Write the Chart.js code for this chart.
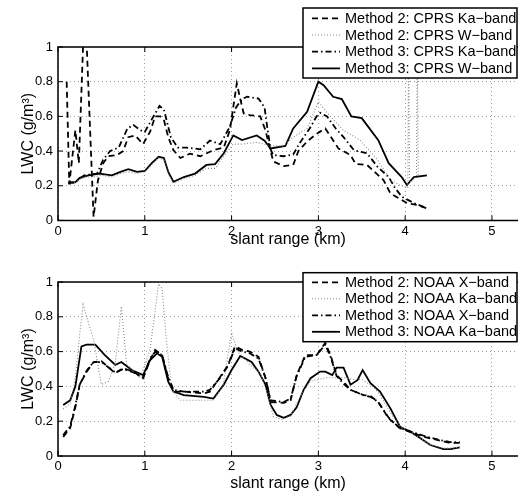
<!DOCTYPE html>
<html>
<head>
<meta charset="utf-8">
<script src="https://cdn.jsdelivr.net/npm/chart.js@4.4.0/dist/chart.umd.min.js"></script>
<style>
  html, body { margin: 0; padding: 0; background: #fff; }
  #wrap { position: relative; width: 518px; height: 496px; overflow: hidden; }
  .panel { position: absolute; left: 0; width: 518px; }
</style>
</head>
<body>
<div id="wrap">
  <div class="panel" style="top:0;height:252px"><canvas id="graficoCprs" width="518" height="252"></canvas></div>
  <div class="panel" style="top:252px;height:244px"><canvas id="graficoNoaa" width="518" height="244"></canvas></div>
</div>
<script>
// Datos: pares [distancia (km), LWC (g/m3)]
const xTicks = [0, 1, 2, 3, 4, 5];
const yTicks = [0, 0.2, 0.4, 0.6, 0.8, 1];

const cprsLabels = ['Method 2: CPRS Ka\u2212band', 'Method 2: CPRS W\u2212band', 'Method 3: CPRS Ka\u2212band', 'Method 3: CPRS W\u2212band'];
const noaaLabels = ['Method 2: NOAA X\u2212band', 'Method 2: NOAA Ka\u2212band', 'Method 3: NOAA X\u2212band', 'Method 3: NOAA Ka\u2212band'];

const cprsM2Ka = [[0.10,0.80],[0.13,0.21],[0.20,0.52],[0.24,0.33],[0.29,1.02],[0.33,1.02],[0.41,0.02],[0.46,0.23],[0.52,0.33],[0.58,0.37],[0.68,0.377],[0.75,0.40],[0.81,0.48],[0.89,0.49],[0.98,0.44],[1.06,0.51],[1.12,0.60],[1.18,0.60],[1.22,0.58],[1.27,0.48],[1.33,0.405],[1.41,0.36],[1.52,0.385],[1.64,0.37],[1.79,0.405],[1.91,0.42],[1.98,0.52],[2.06,0.79],[2.10,0.70],[2.14,0.617],[2.21,0.607],[2.33,0.60],[2.39,0.52],[2.48,0.34],[2.60,0.313],[2.71,0.32],[2.77,0.40],[2.87,0.455],[2.98,0.50],[3.08,0.53],[3.16,0.47],[3.23,0.415],[3.37,0.377],[3.43,0.325],[3.56,0.32],[3.67,0.27],[3.75,0.233],[3.83,0.156],[3.93,0.127],[4.02,0.10],[4.14,0.089],[4.25,0.07]];
const cprsM2W = [[0.12,0.21],[0.20,0.22],[0.30,0.25],[0.40,0.25],[0.50,0.26],[0.62,0.25],[0.72,0.27],[0.81,0.28],[0.91,0.27],[1.00,0.28],[1.08,0.32],[1.16,0.36],[1.22,0.35],[1.27,0.27],[1.33,0.215],[1.45,0.24],[1.58,0.26],[1.71,0.30],[1.81,0.30],[1.91,0.37],[2.02,0.44],[2.12,0.44],[2.29,0.45],[2.45,0.43],[2.60,0.43],[2.71,0.48],[2.87,0.53],[3.00,0.684],[3.10,0.62],[3.29,0.52],[3.48,0.463],[3.68,0.35],[3.83,0.233],[3.95,0.20],[4.03,0.19],[4.04,1.05],[4.05,0.22],[4.13,0.25],[4.14,1.05],[4.15,0.26]];
const cprsM3Ka = [[0.12,0.22],[0.20,0.22],[0.30,0.26],[0.45,0.27],[0.52,0.35],[0.60,0.40],[0.70,0.42],[0.80,0.53],[0.87,0.55],[0.95,0.52],[1.00,0.51],[1.10,0.60],[1.17,0.66],[1.22,0.64],[1.30,0.48],[1.38,0.42],[1.48,0.42],[1.64,0.41],[1.75,0.46],[1.87,0.44],[1.98,0.54],[2.05,0.65],[2.12,0.70],[2.18,0.713],[2.31,0.703],[2.38,0.65],[2.41,0.54],[2.45,0.41],[2.48,0.377],[2.60,0.37],[2.71,0.38],[2.79,0.45],[2.90,0.53],[2.98,0.60],[3.02,0.62],[3.10,0.60],[3.20,0.53],[3.29,0.48],[3.41,0.405],[3.56,0.387],[3.68,0.31],[3.81,0.25],[3.88,0.19],[3.96,0.137],[4.10,0.10],[4.25,0.07]];
const cprsM3W = [[0.12,0.21],[0.20,0.22],[0.25,0.245],[0.35,0.26],[0.48,0.27],[0.62,0.26],[0.72,0.28],[0.81,0.295],[0.91,0.28],[1.00,0.285],[1.08,0.33],[1.16,0.367],[1.22,0.36],[1.27,0.28],[1.33,0.223],[1.45,0.25],[1.58,0.27],[1.71,0.32],[1.81,0.325],[1.91,0.387],[2.02,0.49],[2.12,0.463],[2.29,0.49],[2.38,0.46],[2.45,0.415],[2.62,0.43],[2.71,0.53],[2.87,0.626],[3.00,0.80],[3.06,0.78],[3.17,0.713],[3.27,0.70],[3.38,0.60],[3.50,0.59],[3.69,0.463],[3.81,0.33],[3.96,0.25],[4.02,0.204],[4.10,0.25],[4.25,0.26]];

const noaaM2X = [[0.06,0.11],[0.14,0.16],[0.20,0.28],[0.25,0.41],[0.33,0.485],[0.41,0.54],[0.50,0.545],[0.58,0.51],[0.66,0.475],[0.75,0.504],[0.87,0.485],[0.98,0.447],[1.06,0.55],[1.12,0.61],[1.20,0.58],[1.26,0.46],[1.33,0.37],[1.45,0.37],[1.68,0.36],[1.75,0.37],[1.87,0.456],[1.96,0.523],[2.04,0.63],[2.12,0.61],[2.21,0.60],[2.31,0.57],[2.39,0.45],[2.45,0.31],[2.60,0.306],[2.68,0.32],[2.75,0.465],[2.85,0.58],[2.98,0.58],[3.08,0.65],[3.14,0.58],[3.21,0.465],[3.30,0.42],[3.37,0.38],[3.52,0.35],[3.60,0.345],[3.69,0.31],[3.81,0.216],[3.94,0.16],[4.10,0.13],[4.22,0.11],[4.37,0.092],[4.52,0.075],[4.63,0.075]];
const noaaM2Ka = [[0.06,0.27],[0.14,0.30],[0.20,0.45],[0.25,0.70],[0.29,0.87],[0.33,0.80],[0.41,0.67],[0.50,0.41],[0.58,0.43],[0.66,0.53],[0.73,0.86],[0.79,0.53],[0.90,0.47],[0.95,0.45],[1.06,0.61],[1.16,0.99],[1.20,0.96],[1.25,0.66],[1.31,0.38],[1.41,0.32],[1.60,0.32],[1.79,0.32],[1.90,0.40],[2.00,0.71],[2.07,0.60],[2.20,0.53],[2.33,0.475],[2.42,0.35],[2.48,0.226],[2.58,0.21],[2.68,0.23],[2.80,0.35],[2.91,0.43],[3.00,0.44],[3.10,0.45],[3.20,0.45],[3.30,0.45],[3.40,0.44],[3.50,0.44],[3.64,0.395],[3.71,0.35],[3.83,0.25],[3.94,0.17],[4.06,0.14],[4.18,0.10],[4.29,0.065],[4.44,0.045],[4.52,0.045],[4.63,0.05]];
const noaaM3X = [[0.06,0.12],[0.14,0.17],[0.20,0.29],[0.25,0.41],[0.33,0.49],[0.41,0.54],[0.50,0.54],[0.58,0.51],[0.66,0.48],[0.75,0.50],[0.87,0.48],[0.98,0.45],[1.06,0.56],[1.12,0.60],[1.20,0.58],[1.26,0.47],[1.33,0.38],[1.45,0.37],[1.68,0.37],[1.75,0.38],[1.87,0.45],[1.96,0.52],[2.04,0.62],[2.12,0.60],[2.21,0.59],[2.31,0.56],[2.39,0.45],[2.45,0.32],[2.60,0.31],[2.68,0.33],[2.75,0.46],[2.85,0.57],[2.98,0.58],[3.08,0.64],[3.14,0.57],[3.21,0.46],[3.30,0.41],[3.37,0.38],[3.52,0.35],[3.60,0.34],[3.69,0.31],[3.81,0.22],[3.94,0.16],[4.10,0.135],[4.22,0.115],[4.37,0.095],[4.52,0.08],[4.63,0.08]];
const noaaM3Ka = [[0.06,0.293],[0.14,0.32],[0.20,0.40],[0.27,0.63],[0.33,0.64],[0.43,0.64],[0.54,0.58],[0.66,0.523],[0.73,0.54],[0.85,0.494],[0.98,0.465],[1.06,0.55],[1.14,0.59],[1.20,0.57],[1.27,0.427],[1.33,0.37],[1.45,0.35],[1.68,0.34],[1.79,0.33],[1.91,0.41],[2.00,0.494],[2.10,0.575],[2.23,0.54],[2.31,0.485],[2.39,0.41],[2.45,0.293],[2.52,0.236],[2.60,0.22],[2.68,0.236],[2.75,0.28],[2.83,0.38],[2.91,0.447],[3.02,0.485],[3.08,0.485],[3.16,0.465],[3.21,0.508],[3.29,0.508],[3.37,0.41],[3.45,0.436],[3.51,0.494],[3.60,0.418],[3.71,0.37],[3.83,0.274],[3.94,0.168],[4.06,0.14],[4.18,0.10],[4.29,0.063],[4.44,0.04],[4.52,0.04],[4.63,0.05]];

(function() {
    'use strict';

    var FUENTE = "'Liberation Sans', Arial, Helvetica, sans-serif";

    // Estilos de linea al estilo MATLAB: --, :, -., -
    var estilos = [
        { borderDash: [6, 4], borderWidth: 1.8, borderColor: '#000' },
        { borderDash: [1, 2], borderWidth: 1.1, borderColor: '#8a8a8a' },
        { borderDash: [6, 3, 1.5, 3], borderWidth: 1.8, borderColor: '#000' },
        { borderDash: [], borderWidth: 1.8, borderColor: '#000' }
    ];

    // Caja de ejes, marcas interiores y leyenda con recuadro
    var cajaMatlab = {
        id: 'cajaMatlab',
        afterDraw: function(chart, args, opts) {
            var ctx = chart.ctx;
            var a = chart.chartArea;
            var sx = chart.scales.x, sy = chart.scales.y;
            ctx.save();
            ctx.strokeStyle = '#000';
            ctx.lineWidth = 1.5;
            ctx.setLineDash([]);
            ctx.beginPath();
            ctx.moveTo(chart.width + 2, a.top);
            ctx.lineTo(a.left, a.top);
            ctx.lineTo(a.left, a.bottom);
            ctx.lineTo(chart.width + 2, a.bottom);
            ctx.stroke();

            ctx.lineWidth = 1;
            ctx.beginPath();
            xTicks.forEach(function(v) {
                var px = sx.getPixelForValue(v);
                ctx.moveTo(px, a.bottom); ctx.lineTo(px, a.bottom - 5);
                ctx.moveTo(px, a.top); ctx.lineTo(px, a.top + 5);
            });
            yTicks.forEach(function(v) {
                var py = sy.getPixelForValue(v);
                ctx.moveTo(a.left, py); ctx.lineTo(a.left + 5, py);
            });
            ctx.stroke();

            // Leyenda
            var L = opts;
            ctx.fillStyle = '#fff';
            ctx.fillRect(L.x, L.y, L.w, L.h);
            ctx.lineWidth = 1.5;
            ctx.strokeRect(L.x, L.y, L.w, L.h);
            ctx.font = '14.5px ' + FUENTE;
            ctx.textBaseline = 'middle';
            ctx.textAlign = 'left';
            chart.data.datasets.forEach(function(ds, i) {
                var yy = L.y + L.first + i * L.step;
                ctx.save();
                ctx.strokeStyle = ds.borderColor;
                ctx.lineWidth = ds.borderWidth;
                ctx.setLineDash(ds.borderDash);
                ctx.beginPath();
                ctx.moveTo(L.x + 9, yy);
                ctx.lineTo(L.x + 37, yy);
                ctx.stroke();
                ctx.restore();
                ctx.fillStyle = '#000';
                ctx.fillText(ds.label, L.x + 42, yy + 0.5);
            });
            ctx.restore();
        }
    };

    function crearGrafico(id, etiquetas, series, alto, arriba, abajo, leyenda, tituloPad) {
        var datasets = series.map(function(s, i) {
            return Object.assign({
                label: etiquetas[i],
                data: s,
                fill: false,
                tension: 0,
                pointRadius: 0,
                clip: 0
            }, estilos[i]);
        });

        return new Chart(document.getElementById(id), {
            type: 'line',
            data: { datasets: datasets },
            plugins: [cajaMatlab],
            options: {
                responsive: false,
                animation: false,
                layout: { padding: { top: arriba, left: 0, right: 0, bottom: 0 } },
                plugins: {
                    legend: { display: false },
                    tooltip: { enabled: false },
                    cajaMatlab: leyenda
                },
                scales: {
                    x: {
                        type: 'linear',
                        min: 0,
                        max: 5.3,
                        afterBuildTicks: function(s) { s.ticks = xTicks.map(function(v) { return { value: v }; }); },
                        afterFit: function(s) { s.height = alto - abajo; },
                        ticks: { color: '#000', padding: 3, maxRotation: 0, font: { family: FUENTE, size: 13 }, callback: function(v) { return String(v); } },
                        grid: { color: '#9a9a9a', lineWidth: 1, drawTicks: false },
                        border: { display: false, dash: [1, 3] },
                        title: { display: true, text: 'slant range (km)', color: '#000', font: { family: FUENTE, size: 16 }, padding: { top: 0, bottom: tituloPad } }
                    },
                    y: {
                        min: 0,
                        max: 1,
                        afterBuildTicks: function(s) { s.ticks = yTicks.map(function(v) { return { value: v }; }); },
                        afterFit: function(s) { s.width = 58; },
                        ticks: { color: '#000', padding: 5, font: { family: FUENTE, size: 13 }, callback: function(v) { return String(v); } },
                        grid: { color: '#9a9a9a', lineWidth: 1, drawTicks: false },
                        border: { display: false, dash: [1, 3] },
                        title: { display: true, text: 'LWC (g/m\u00B3)', color: '#000', font: { family: FUENTE, size: 16 }, padding: { top: 19, bottom: 0 } }
                    }
                }
            }
        });
    }

    crearGrafico('graficoCprs', cprsLabels, [cprsM2Ka, cprsM2W, cprsM3Ka, cprsM3W], 252, 47, 220.4,
        { x: 303, y: 8, w: 214, h: 70, first: 10.3, step: 16.7 }, 2.6);
    crearGrafico('graficoNoaa', noaaLabels, [noaaM2X, noaaM2Ka, noaaM3X, noaaM3Ka], 244, 30, 204,
        { x: 303, y: 20.7, w: 214, h: 69, first: 9.6, step: 16.5 }, 2.6);
})();
</script>
</body>
</html>
